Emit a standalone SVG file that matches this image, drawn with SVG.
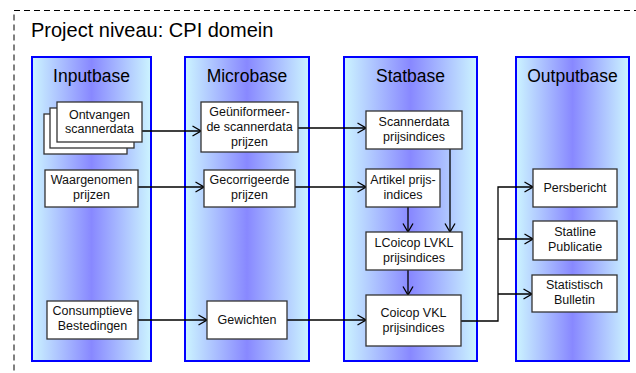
<svg xmlns="http://www.w3.org/2000/svg" width="636" height="373" viewBox="0 0 636 373">
<defs>
<linearGradient id="colGrad" x1="0" y1="0" x2="1" y2="0">
<stop offset="0" stop-color="#CCF4FF"/>
<stop offset="0.5" stop-color="#8888FF"/>
<stop offset="1" stop-color="#CCF4FF"/>
</linearGradient>
<marker id="arr" viewBox="0 0 10 12" refX="9.5" refY="6" markerWidth="10" markerHeight="12" markerUnits="userSpaceOnUse" orient="auto">
<path d="M1,1 L9.5,6 L1,11" fill="none" stroke="#000" stroke-width="1.3"/>
</marker>
<style>
.col{fill:url(#colGrad);stroke:#0000FF;stroke-width:2}
.node{fill:#fff;stroke:#333;stroke-width:1.3}
.ct{font-family:"Liberation Sans",Arial,sans-serif;font-size:17.5px;fill:#000;text-anchor:middle}
.nt{font-family:"Liberation Sans",Arial,sans-serif;font-size:12.5px;fill:#111;text-anchor:middle}
.conn{fill:none;stroke:#000;stroke-width:1.3}
</style>
</defs>
<rect x="14" y="10.5" width="640" height="380" fill="none" stroke="#000" stroke-width="1" stroke-dasharray="6,4"/>
<text x="31" y="37" font-family="'Liberation Sans',Arial,sans-serif" font-size="20" fill="#000">Project niveau: CPI domein</text>

<g id="col-inputbase"><rect class="col" x="32" y="57" width="119" height="304"/><text class="ct" x="91.5" y="82">Inputbase</text></g>
<g id="col-microbase"><rect class="col" x="185" y="57" width="124" height="304"/><text class="ct" x="247" y="82">Microbase</text></g>
<g id="col-statbase"><rect class="col" x="344" y="57" width="133" height="304"/><text class="ct" x="410.5" y="82">Statbase</text></g>
<g id="col-outputbase"><rect class="col" x="516" y="57" width="113" height="304"/><text class="ct" x="572.5" y="82">Outputbase</text></g>

<g id="connectors">
<path class="conn" d="M142,131 H201" marker-end="url(#arr)"/>
<path class="conn" d="M298,128 H366" marker-end="url(#arr)"/>
<path class="conn" d="M138,187 H204" marker-end="url(#arr)"/>
<path class="conn" d="M295,187 H366" marker-end="url(#arr)"/>
<path class="conn" d="M450,149 V232" marker-end="url(#arr)"/>
<path class="conn" d="M408,207 V232" marker-end="url(#arr)"/>
<path class="conn" d="M408,270 V295" marker-end="url(#arr)"/>
<path class="conn" d="M138,320 H207" marker-end="url(#arr)"/>
<path class="conn" d="M287,320 H366" marker-end="url(#arr)"/>
<path class="conn" d="M461,321 H498 V187 H533" marker-end="url(#arr)"/>
<path class="conn" d="M498,239 H533" marker-end="url(#arr)"/>
<path class="conn" d="M498,294 H532" marker-end="url(#arr)"/>
</g>

<g id="n-ontvangen">
<rect class="node" x="44" y="114" width="83" height="40"/>
<rect class="node" x="50" y="108" width="84" height="40"/>
<rect class="node" x="57" y="102" width="85" height="40"/>
<text class="nt" x="99.5" y="119">Ontvangen</text>
<text class="nt" x="99.5" y="133">scannerdata</text>
</g>
<g id="n-waargenomen">
<rect class="node" x="45" y="170" width="93" height="37"/>
<text class="nt" x="91.5" y="184">Waargenomen</text>
<text class="nt" x="91.5" y="199">prijzen</text>
</g>
<g id="n-consumptieve">
<rect class="node" x="47" y="301" width="91" height="38"/>
<text class="nt" x="92.5" y="315">Consumptieve</text>
<text class="nt" x="92.5" y="330">Bestedingen</text>
</g>
<g id="n-geuniformeerde">
<rect class="node" x="201" y="102" width="97" height="50"/>
<text class="nt" x="249.5" y="116">Geüniformeer-</text>
<text class="nt" x="249.5" y="131">de scannerdata</text>
<text class="nt" x="249.5" y="146">prijzen</text>
</g>
<g id="n-gecorrigeerde">
<rect class="node" x="204" y="170" width="91" height="37"/>
<text class="nt" x="249.5" y="184">Gecorrigeerde</text>
<text class="nt" x="249.5" y="199">prijzen</text>
</g>
<g id="n-gewichten">
<rect class="node" x="207" y="301" width="80" height="38"/>
<text class="nt" x="247" y="324">Gewichten</text>
</g>
<g id="n-scannerdata-pi">
<rect class="node" x="366" y="111" width="96" height="38"/>
<text class="nt" x="414" y="126">Scannerdata</text>
<text class="nt" x="414" y="141">prijsindices</text>
</g>
<g id="n-artikel">
<rect class="node" x="366" y="169" width="74" height="38"/>
<text class="nt" x="403" y="184">Artikel prijs-</text>
<text class="nt" x="403" y="199">indices</text>
</g>
<g id="n-lcoicop">
<rect class="node" x="366" y="232" width="96" height="38"/>
<text class="nt" x="414" y="247">LCoicop LVKL</text>
<text class="nt" x="414" y="262">prijsindices</text>
</g>
<g id="n-coicop">
<rect class="node" x="366" y="295" width="95" height="51"/>
<text class="nt" x="413.5" y="317">Coicop VKL</text>
<text class="nt" x="413.5" y="332">prijsindices</text>
</g>
<g id="n-persbericht">
<rect class="node" x="533" y="169" width="84" height="38"/>
<text class="nt" x="575" y="192">Persbericht</text>
</g>
<g id="n-statline">
<rect class="node" x="533" y="221" width="84" height="39"/>
<text class="nt" x="575" y="236">Statline</text>
<text class="nt" x="575" y="251">Publicatie</text>
</g>
<g id="n-bulletin">
<rect class="node" x="532" y="275" width="85" height="37"/>
<text class="nt" x="574.5" y="289">Statistisch</text>
<text class="nt" x="574.5" y="304">Bulletin</text>
</g>
</svg>
